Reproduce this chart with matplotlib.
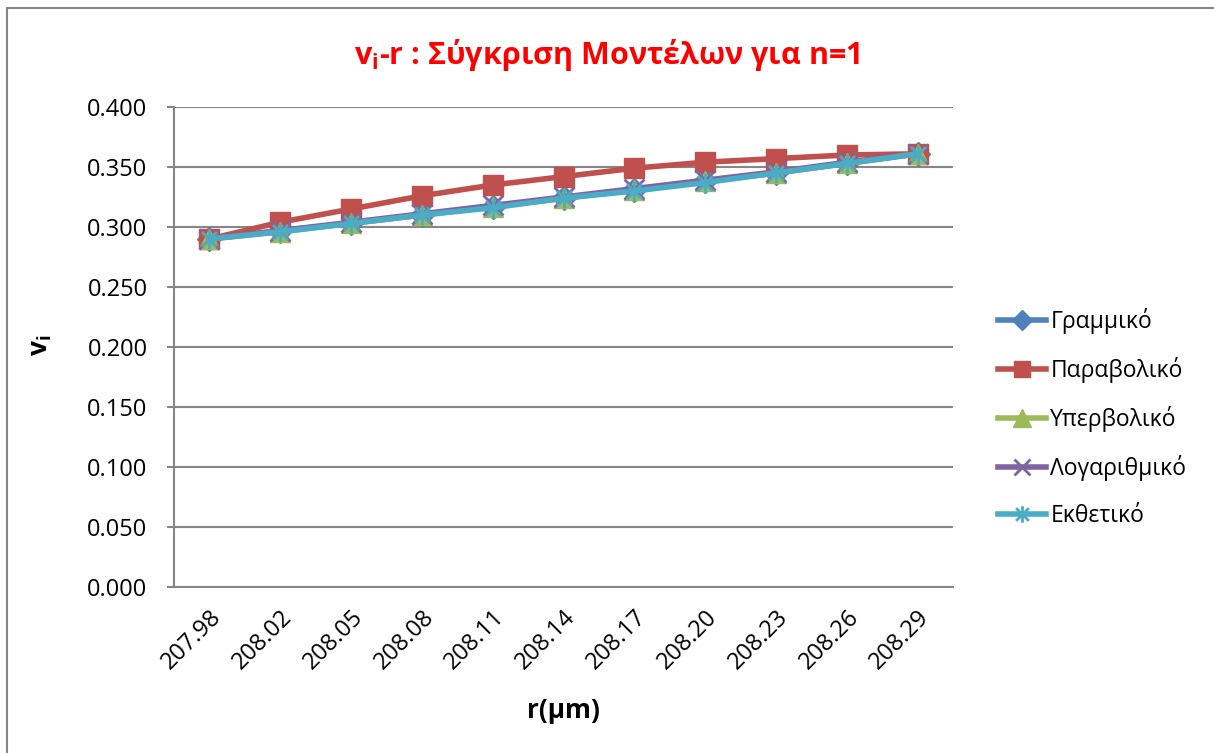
import numpy as np
import matplotlib
matplotlib.use('Agg')
import matplotlib.pyplot as plt
from matplotlib.path import Path
from matplotlib.patches import Rectangle

plt.rcParams['font.family'] = ['Open Sans', 'DejaVu Sans']
plt.rcParams['mathtext.fontset'] = 'custom'
plt.rcParams['mathtext.rm'] = 'Open Sans:bold'
plt.rcParams['mathtext.it'] = 'Open Sans:bold'
plt.rcParams['mathtext.bf'] = 'Open Sans:bold'

# data
r_labels = ['207.98', '208.02', '208.05', '208.08', '208.11', '208.14',
            '208.17', '208.20', '208.23', '208.26', '208.29']
grammiko = [0.290, 0.297, 0.303, 0.310, 0.317, 0.324, 0.331, 0.338, 0.345, 0.353, 0.361]
parabol = [0.290, 0.304, 0.315, 0.326, 0.335, 0.342, 0.349, 0.354, 0.357, 0.360, 0.361]
yperbol = [0.290, 0.296, 0.303, 0.310, 0.317, 0.324, 0.331, 0.338, 0.345, 0.353, 0.361]
logar = [0.290, 0.297, 0.304, 0.311, 0.318, 0.325, 0.332, 0.339, 0.346, 0.354, 0.361]
ektheti = [0.290, 0.296, 0.303, 0.310, 0.316, 0.324, 0.330, 0.337, 0.345, 0.353, 0.361]
names = ['Γραμμικό', 'Παραβολικό', 'Υπερβολικό', 'Λογαριθμικό', 'Εκθετικό']

# excel-like star marker: x plus vertical bar
star = Path([(-1, -1), (1, 1), (-1, 1), (1, -1), (0, -1.3), (0, 1.3)],
            [Path.MOVETO, Path.LINETO, Path.MOVETO, Path.LINETO, Path.MOVETO, Path.LINETO])

fig = plt.figure(figsize=(12.14, 7.53), dpi=100)
fig.patches.append(Rectangle((7 / 1214, -0.05), 1.2, 1 - 8 / 753 + 0.05,
                             transform=fig.transFigure, fill=False,
                             edgecolor='#868686', lw=1.5))
ax = fig.add_axes([174 / 1214, 1 - 587 / 753, 779 / 1214, 480 / 753])

x = np.arange(len(r_labels))
lw = 4
ax.plot(x, grammiko, color='#4F81BD', lw=lw, marker='D', ms=12, label=names[0])
ax.plot(x, parabol, color='#C0504D', lw=lw, marker='s', ms=14, label=names[1])
ax.plot(x, yperbol, color='#9BBB59', lw=lw, marker='^', ms=15, label=names[2])
ax.plot(x, logar, color='#8064A2', lw=lw, marker='x', ms=14, mew=2, label=names[3])
ax.plot(x, ektheti, color='#4BACC6', lw=lw, marker=star, ms=14, mew=2, label=names[4])

ax.set_xlim(-0.5, len(r_labels) - 0.5)
ax.set_ylim(0, 0.4)
ax.set_yticks(np.arange(0, 0.401, 0.05))
ax.set_yticklabels(['%.3f' % v for v in np.arange(0, 0.401, 0.05)])
ax.set_xticks(x)
ax.set_xticklabels(r_labels, rotation=45, ha='right', va='top', rotation_mode='anchor')

ax.grid(axis='y', color='#868686', lw=1.5)
ax.set_axisbelow(True)
for s in ['top', 'right']:
    ax.spines[s].set_visible(False)
for s in ['left', 'bottom']:
    ax.spines[s].set_color('#868686')
    ax.spines[s].set_linewidth(1.5)
ax.tick_params(axis='y', length=5, color='#868686', width=1.5, pad=14, labelsize=17)
ax.tick_params(axis='x', length=0, pad=13, labelsize=17)

fig.text(0.5, 1 - 55 / 753, r'$\mathrm{v_i}$-r : Σύγκριση Μοντέλων για n=1',
         color='red', fontsize=22, fontweight='bold', ha='center', va='center')
fig.text(563 / 1214, 1 - 710 / 753, 'r(μm)', fontsize=19, fontweight='bold',
         ha='center', va='center')
fig.text(40 / 1214, 1 - 345 / 753, r'$\mathrm{v_i}$', fontsize=19, fontweight='bold',
         rotation=90, ha='center', va='center')

ax.legend(loc='center left', bbox_to_anchor=(977 / 1214, 1 - 418 / 753),
          bbox_transform=fig.transFigure, frameon=False, fontsize=16.5,
          handlelength=2.1, labelspacing=1.0, handletextpad=0.2, markerscale=0.85)

fig.savefig('out.png', dpi=100)
